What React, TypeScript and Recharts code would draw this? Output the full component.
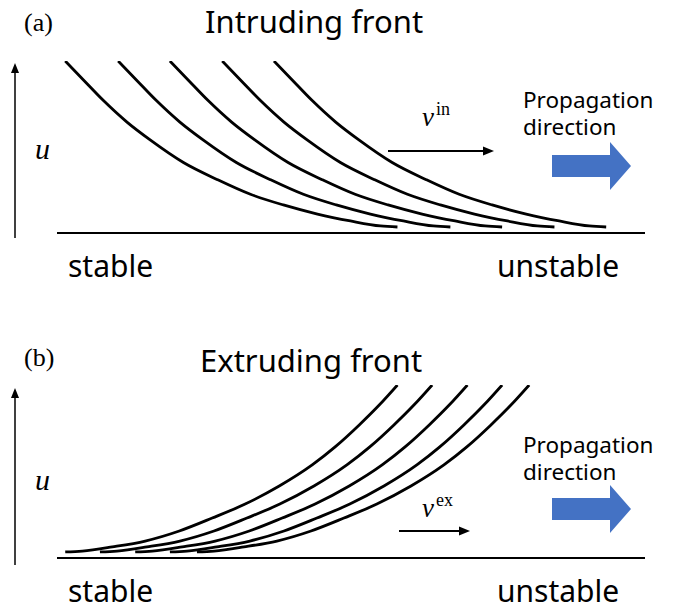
import { LineChart, Line, XAxis, YAxis, ReferenceLine } from 'recharts';

// x: position along the medium (0 = left end of the baseline, 100 = right end)
// u: normalised amplitude (0 = baseline, 1 = top of the curves)

// intruding front profile, relative to where each front starts
const intrudeOffsets = [0, 3.1, 6.5, 10.5, 14.5, 20.1, 25.9, 31.5, 37.1, 42.9, 48.5, 53.6, 56.5];
const intrudeU = [1.0, 0.89, 0.77, 0.645, 0.54, 0.41, 0.31, 0.225, 0.163, 0.11, 0.07, 0.041, 0.035];
const intrudeFronts = [1.4, 10.4, 19.2, 28.1, 36.9];

// extruding front profile
const extrudeOffsets = [0, 2.9, 8.0, 13.6, 19.4, 25.0, 30.6, 36.4, 42.0, 45.9, 50.0, 53.4, 56.5];
const extrudeU = [0.035, 0.04, 0.064, 0.098, 0.156, 0.231, 0.312, 0.416, 0.538, 0.642, 0.769, 0.884, 1.0];
const extrudeFronts = [1.4, 7.3, 13.3, 19.2, 23.8];

const sideLabels = ['stable', 'unstable'];
const propagationLabel = ['Propagation', 'direction'];

type Pt = { x: number; u: number };

const buildFronts = (starts: number[], offsets: number[], u: number[]): Pt[][] =>
  starts.map((s) => offsets.map((d, i) => ({ x: s + d, u: u[i] })));

const SANS = '"Noto Sans", sans-serif';
const SERIF = '"Liberation Serif", "DejaVu Serif", serif';

interface Layout {
  height: number;
  top: number;
  bottom: number;
  tagY: number;
  titleX: number;
  titleY: number;
  arrowTop: number;
  arrowBottom: number;
  uY: number;
  vx1: number;
  vx2: number;
  vy: number;
  vLabelY: number;
  propY: number;
  blueY: number;
  sideY: number;
}

interface PanelProps {
  tag: string;
  title: string;
  sup: string;
  fronts: Pt[][];
  layout: Layout;
}

const Panel = ({ tag, title, sup, fronts, layout: L }: PanelProps) => {
  const cy = L.blueY;
  const bluePts = [
    [552, cy - 11], [610, cy - 11], [610, cy - 24], [631, cy],
    [610, cy + 24], [610, cy + 11], [552, cy + 11],
  ].map((p) => p.join(',')).join(' ');

  return (
    <LineChart width={673} height={L.height} margin={{ top: L.top, right: 28, bottom: L.bottom, left: 57 }}>
      <XAxis type="number" dataKey="x" domain={[0, 100]} hide allowDataOverflow />
      <YAxis type="number" domain={[0, 1]} hide allowDataOverflow />
      <ReferenceLine y={0} stroke="#000" strokeWidth={2} />
      {fronts.map((f, i) => (
        <Line
          key={i}
          data={f}
          dataKey="u"
          type="monotone"
          dot={false}
          activeDot={false}
          stroke="#000"
          strokeWidth={2.8}
          isAnimationActive={false}
        />
      ))}

      {/* panel tag + title */}
      <text x={24} y={L.tagY} fontFamily={SERIF} fontSize={26} fill="#000">{tag}</text>
      <text x={L.titleX} y={L.titleY} fontFamily={SANS} fontSize={31} fill="#000">{title}</text>

      {/* u axis arrow */}
      <line x1={15} y1={L.arrowBottom} x2={15} y2={L.arrowTop + 8} stroke="#000" strokeWidth={1.5} />
      <path d={`M15,${L.arrowTop} L19,${L.arrowTop + 10} L11,${L.arrowTop + 10} Z`} fill="#000" />
      <text x={35} y={L.uY} fontFamily={SERIF} fontStyle="italic" fontSize={30} fill="#000">u</text>

      {/* front velocity */}
      <line x1={L.vx1} y1={L.vy} x2={L.vx2 - 9} y2={L.vy} stroke="#000" strokeWidth={2.2} />
      <path d={`M${L.vx2},${L.vy} L${L.vx2 - 11},${L.vy - 4.5} L${L.vx2 - 11},${L.vy + 4.5} Z`} fill="#000" />
      <text x={422} y={L.vLabelY} fontFamily={SERIF} fill="#000">
        <tspan fontStyle="italic" fontSize={27}>v</tspan>
        <tspan fontSize={18} dx={2} dy={-11}>{sup}</tspan>
      </text>

      {/* propagation direction, two lines in one text block */}
      <text x={523} y={L.propY} fontFamily={SANS} fontSize={22.5} fill="#000">
        <tspan x={523}>{propagationLabel[0]}</tspan>
        <tspan x={523} dy={27}>{propagationLabel[1]}</tspan>
      </text>
      <polygon points={bluePts} fill="#4472C4" />

      <text x={68} y={L.sideY} fontFamily={SANS} fontSize={30} fill="#000">{sideLabels[0]}</text>
      <text x={497} y={L.sideY} fontFamily={SANS} fontSize={30} fill="#000">{sideLabels[1]}</text>
    </LineChart>
  );
};

const layoutA: Layout = {
  height: 300, top: 61, bottom: 67,
  tagY: 31, titleX: 205, titleY: 33,
  arrowTop: 63, arrowBottom: 238, uY: 159,
  vx1: 388, vx2: 494, vy: 151, vLabelY: 126,
  propY: 108, blueY: 166, sideY: 277,
};

const layoutB: Layout = {
  height: 310, top: 85, bottom: 52,
  tagY: 66, titleX: 200, titleY: 72,
  arrowTop: 88, arrowBottom: 265, uY: 190,
  vx1: 399, vx2: 470, vy: 231, vLabelY: 217,
  propY: 153, blueY: 209, sideY: 302,
};

const App = () => (
  <div style={{ position: 'absolute', left: 0, top: 0, width: 673, height: 610, background: '#fff' }}>
    <Panel
      tag="(a)"
      title="Intruding front"
      sup="in"
      fronts={buildFronts(intrudeFronts, intrudeOffsets, intrudeU)}
      layout={layoutA}
    />
    <Panel
      tag="(b)"
      title="Extruding front"
      sup="ex"
      fronts={buildFronts(extrudeFronts, extrudeOffsets, extrudeU)}
      layout={layoutB}
    />
  </div>
);

export default App;
